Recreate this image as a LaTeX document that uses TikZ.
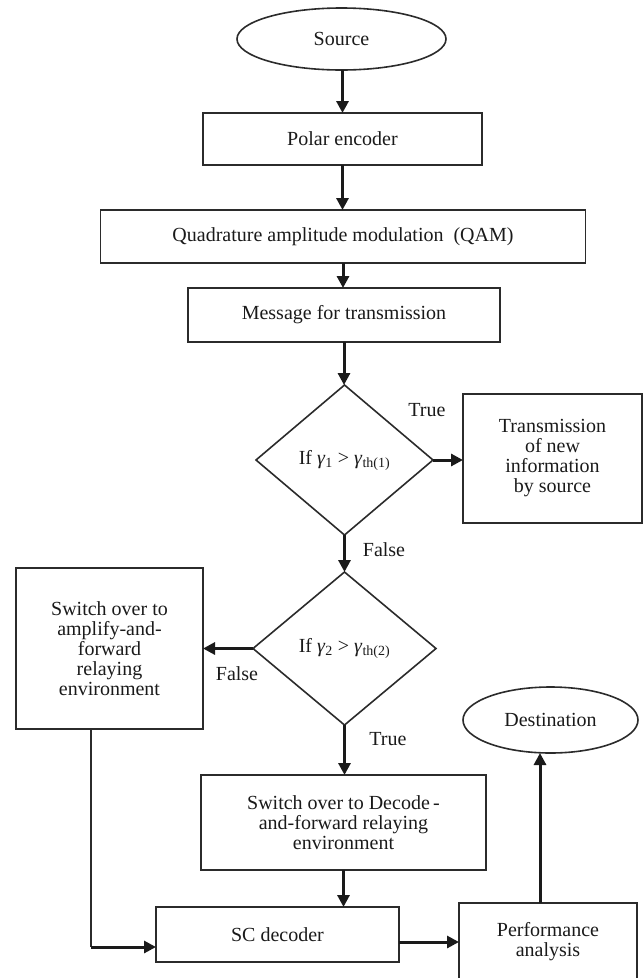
\documentclass[tikz,border=0pt]{standalone}
\usepackage{fontspec}
\setmainfont{Liberation Serif}
\usetikzlibrary{shapes.geometric,arrows.meta,calc}
\definecolor{ink}{HTML}{1A1A1A}
\definecolor{edge}{HTML}{2B2B2B}
\begin{document}
\begin{tikzpicture}[x=1pt,y=-1pt,
  every node/.style={font=\fontsize{20}{20}\selectfont, text=ink},
  box/.style={draw=edge, line width=1.6pt, rectangle, align=center, inner sep=0pt, outer sep=0pt},
  oval/.style={draw=edge, line width=1.6pt, ellipse, inner sep=0pt, outer sep=0pt},
  decision/.style={draw=edge, line width=1.6pt, diamond, inner sep=0pt, outer sep=0pt},
  arr/.style={draw=ink, line width=3pt, -{Triangle[length=12pt,width=12pt]}},
  thinline/.style={draw=edge, line width=1.6pt},
  lbl/.style={inner sep=0pt}
]
\useasboundingbox (0,0) rectangle (644,978);

\node[oval, minimum width=209pt, minimum height=62pt] (src) at (341.5,39) {Source};
\node[box, minimum width=279pt, minimum height=52pt] (polar) at (342.5,139) {Polar encoder};
\node[box, minimum width=485pt, minimum height=53pt] (qam) at (343,236.5) {Quadrature amplitude modulation\ \ (QAM)};
\node[box, minimum width=312pt, minimum height=54pt] (msg) at (344,315) {Message for transmission};
\node[decision, minimum width=177pt, minimum height=150pt] (d1) at (344.5,460) {If \textit{γ}\textsubscript{1} > \textit{γ}\textsubscript{th(1)}};
\node[box, minimum width=179pt, minimum height=129pt] (trans) at (552.5,458.5) {Transmission\\of new\\information\\by source};
\node[decision, minimum width=183pt, minimum height=153pt] (d2) at (344.5,648.5) {If \textit{γ}\textsubscript{2} > \textit{γ}\textsubscript{th(2)}};
\node[box, minimum width=187pt, minimum height=161pt] (af) at (109.5,648.5) {Switch over to\\amplify-and-\\forward\\relaying\\environment};
\node[box, minimum width=285pt, minimum height=95pt] (df) at (343.5,822.5) {Switch over to Decode\,-\\and-forward relaying\\environment};
\node[box, minimum width=243pt, minimum height=55pt] (sc) at (277.5,934.5) {SC decoder};
\node[box, minimum width=178pt, minimum height=77pt] (perf) at (548,941.5) {Performance\\analysis};
\node[oval, minimum width=175pt, minimum height=66pt] (dest) at (550.5,720) {Destination};

\node[lbl] (t1) at (427,410) {True};
\node[lbl] (f1) at (384,550) {False};
\node[lbl] (f2) at (237,674) {False};
\node[lbl] (t2) at (388,739) {True};

\draw[arr] (src.south -| polar.north) -- (polar.north);
\draw[arr] (polar.south) -- (polar.south |- qam.north);
\draw[arr] (qam.south) -- (qam.south |- msg.north);
\draw[arr] (msg.south) -- (msg.south |- d1.north);
\draw[arr] (d1.east) -- (d1.east -| trans.west);
\draw[arr] (d1.south) -- (d2.north);
\draw[arr] (d2.west) -- (d2.west -| af.east);
\draw[arr] (d2.south) -- (d2.south |- df.north);
\draw[arr] (df.south) -- (df.south |- sc.north);
\coordinate (c1) at (91,947);
\draw[thinline] (c1 |- af.south) -- (c1);
\draw[arr] (c1) -- (c1 -| sc.west);
\draw[arr] ([yshift=-7.5pt]sc.east) -- ([yshift=-7.5pt]sc.east -| perf.west);
\draw[arr] ([xshift=-8pt]perf.north) -- ([xshift=-8pt]perf.north |- dest.south);
\end{tikzpicture}
\end{document}
